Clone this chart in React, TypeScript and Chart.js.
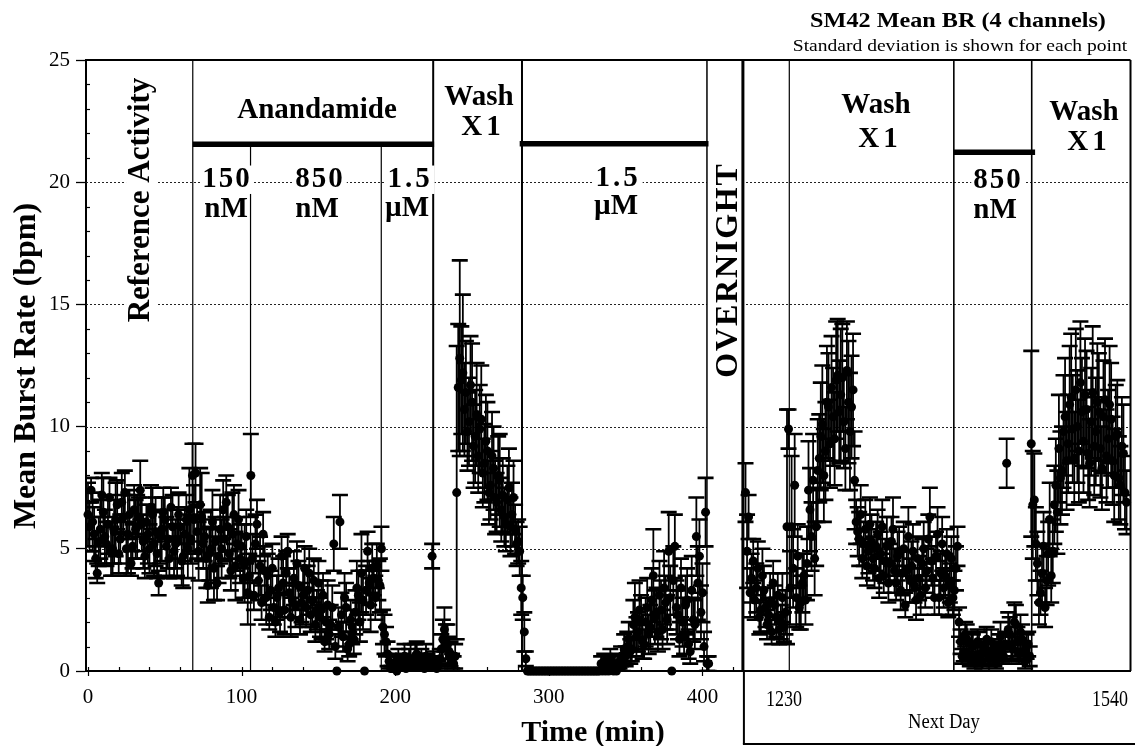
import React, { useEffect, useRef } from 'react';
import { Chart, registerables } from 'chart.js';

Chart.register(...registerables);

// ---------------- data ----------------
// sampling interval of the recording (minutes) and start of each recording day on the time axis
const STEP_MIN = 1;
const DAY1_START_MIN = 0;
const DAY2_START_MIN = 428;

// Day 1 mean burst rate (bpm), one value per minute from t = 0 (10 per row)
const day1Rate = [
  6.4, 5.9, 7.4, 6.1, 5.6, 4.6, 4.0, 5.3, 5.8, 7.2,
  6.5, 5.5, 5.2, 6.0, 7.1, 4.9, 5.0, 5.7, 6.2, 6.8,
  4.8, 5.4, 6.9, 6.3, 7.3, 5.0, 5.6, 6.4, 4.4, 5.1,
  6.6, 5.8, 5.9, 6.3, 7.4, 6.0, 5.3, 4.7, 6.1, 5.6,
  5.0, 6.7, 6.4, 5.2, 5.7, 4.8, 3.6, 5.5, 5.8, 6.5,
  6.2, 5.1, 5.4, 4.6, 6.7, 5.9, 4.9, 5.2, 5.3, 6.4,
  5.9, 4.5, 4.7, 5.6, 6.2, 5.0, 6.6, 5.4, 8.0, 6.2,
  8.1, 5.7, 4.9, 6.8, 6.3, 5.2, 5.5, 4.6, 3.5, 4.8,
  5.0, 6.1, 4.2, 5.3, 3.6, 4.7, 5.8, 5.0, 6.6, 5.4,
  6.9, 5.9, 4.8, 4.1, 5.6, 6.4, 4.3, 5.2, 6.2, 4.6,
  5.1, 3.8, 4.4, 5.5, 3.2, 3.9, 8.0, 4.6, 3.1, 5.2,
  6.0, 3.7, 4.3, 2.8, 5.6, 4.1, 3.0, 3.9, 2.2, 3.3,
  4.2, 2.6, 2.0, 3.0, 3.4, 2.4, 4.7, 3.6, 2.5, 4.0,
  4.9, 3.2, 2.2, 2.9, 3.8, 2.7, 4.4, 3.5, 2.1, 2.8,
  3.1, 4.2, 2.6, 3.3, 4.0, 2.3, 2.9, 3.7, 1.9, 2.5,
  3.6, 2.2, 2.5, 3.1, 1.2, 2.0, 2.7, 1.5, 1.9, 2.6,
  5.2, 1.0, 0.0, 1.8, 6.1, 2.3, 1.4, 3.0, 2.6, 0.9,
  1.1, 2.1, 1.8, 1.3, 2.4, 3.4, 3.1, 2.0, 4.0, 2.9,
  0.0, 3.3, 4.9, 3.6, 2.7, 4.2, 3.8, 3.0, 4.3, 3.7,
  3.5, 5.0, 1.8, 1.5, 1.2, 0.7, 0.4, 0.1, 0.1, 0.3,
  0.2, 0.0, 0.5, 0.3, 0.2, 0.4, 0.6, 0.1, 0.3, 0.5,
  0.5, 0.2, 0.2, 0.6, 0.7, 0.3, 0.4, 0.5, 0.3, 0.1,
  0.6, 0.4, 0.2, 0.3, 4.7, 0.4, 0.3, 0.1, 0.2, 0.5,
  0.9, 1.3, 1.7, 1.2, 1.1, 0.8, 0.7, 0.4, 0.3, 0.6,
  7.3, 11.6, 12.8, 11.9, 12.2, 10.7, 11.4, 9.8, 10.2, 11.7,
  11.0, 9.2, 9.6, 10.5, 8.8, 9.9, 10.3, 8.1, 8.5, 9.4,
  9.0, 7.3, 7.6, 8.8, 8.3, 7.1, 6.9, 8.0, 7.8, 6.6,
  7.2, 6.3, 6.0, 7.0, 7.5, 5.9, 6.4, 7.1, 5.8, 5.2,
  5.3, 4.9, 3.4, 3.0, 1.6, 0.5, 0, 0, 0, 0,
  0, 0, 0, 0, 0, 0, 0, 0, 0, 0,
  0, 0, 0, 0, 0, 0, 0, 0, 0, 0,
  0, 0, 0, 0, 0, 0, 0, 0, 0, 0,
  0, 0, 0, 0, 0, 0, 0, 0, 0, 0,
  0, 0, 0, 0, 0.3, 0, 0.4, 0, 0.2, 0,
  0.5, 0.1, 0, 0.3, 0, 0.2, 0.4, 0.6, 0.2, 0.9,
  0.6, 1.0, 1.3, 0.8, 0.9, 1.9, 2.2, 1.4, 1.6, 2.5,
  2.0, 1.2, 1.1, 2.0, 2.6, 1.5, 1.8, 2.9, 3.9, 2.2,
  2.4, 1.6, 3.1, 2.5, 1.7, 3.4, 2.8, 2.1, 4.9, 3.0,
  0.0, 3.7, 5.1, 2.6, 2.3, 1.3, 3.4, 2.0, 1.4, 2.7,
  2.9, 1.1, 0.8, 3.3, 2.1, 1.9, 5.5, 3.6, 4.7, 2.4,
  3.2, 1.0, 6.5, 0.3, 0.3,
];

// Day 1 standard deviation (bpm)
const day1Sd = [
  1.3, 1.0, 0.5, 1.2, 1.1, 0.8, 0.4, 1.0, 1.2, 0.9,
  1.4, 1.1, 0.9, 1.2, 0.8, 1.0, 1.1, 1.3, 1.5, 1.0,
  0.8, 1.0, 1.2, 0.9, 0.9, 1.1, 1.6, 1.0, 0.5, 0.9,
  1.0, 1.2, 1.3, 0.8, 1.2, 1.1, 1.1, 0.9, 0.7, 1.2,
  1.0, 0.9, 1.1, 1.3, 1.4, 1.0, 0.5, 1.1, 1.3, 1.0,
  0.9, 1.2, 1.2, 0.8, 0.8, 1.3, 1.1, 1.0, 1.4, 0.9,
  0.7, 1.0, 1.3, 1.1, 1.0, 1.2, 1.7, 1.0, 1.3, 1.4,
  1.2, 1.1, 1.2, 1.5, 1.8, 1.0, 1.0, 1.2, 0.7, 1.1,
  1.6, 1.3, 1.3, 1.0, 0.7, 1.1, 1.4, 1.2, 1.2, 0.9,
  1.1, 1.3, 1.0, 0.8, 1.7, 1.2, 1.4, 1.1, 1.2, 1.0,
  0.9, 0.8, 1.6, 1.1, 1.3, 0.9, 1.7, 1.0, 0.6, 1.2,
  1.0, 0.8, 1.2, 0.7, 0.9, 1.0, 1.1, 0.9, 0.5, 0.8,
  1.0, 0.7, 0.6, 0.9, 1.2, 0.8, 0.8, 1.1, 1.0, 0.9,
  0.7, 1.0, 0.8, 0.7, 1.1, 0.9, 0.9, 1.0, 0.6, 0.8,
  1.2, 0.9, 0.8, 1.0, 1.0, 0.7, 1.1, 0.9, 0.7, 0.8,
  0.9, 0.8, 1.2, 0.9, 0.4, 0.7, 1.0, 0.6, 0.8, 0.9,
  1.1, 0.5, 0.0, 0.8, 1.1, 0.9, 0.6, 1.0, 1.0, 0.5,
  0.5, 0.8, 0.7, 0.6, 0.9, 1.1, 1.0, 0.8, 1.6, 1.2,
  0.0, 1.0, 0.8, 0.9, 1.1, 1.0, 0.7, 0.9, 0.9, 0.8,
  1.1, 0.9, 0.7, 0.8, 0.6, 0.5, 0.3, 0.1, 0.1, 0.3,
  0.2, 0.0, 0.4, 0.3, 0.2, 0.3, 0.5, 0.1, 0.3, 0.4,
  0.6, 0.2, 0.2, 0.5, 0.5, 0.3, 0.3, 0.4, 0.3, 0.1,
  0.5, 0.3, 0.2, 0.3, 0.5, 0.4, 0.3, 0.1, 0.2, 0.4,
  0.6, 0.8, 0.9, 0.7, 0.8, 0.6, 0.5, 0.3, 0.3, 0.5,
  6.0, 2.6, 4.0, 2.2, 3.2, 1.9, 2.1, 1.6, 1.8, 2.0,
  2.4, 1.7, 1.9, 2.1, 1.5, 1.8, 2.2, 1.4, 1.6, 1.9,
  2.0, 1.3, 1.4, 1.8, 1.7, 1.5, 1.2, 1.6, 1.9, 1.3,
  1.5, 1.2, 1.1, 1.4, 1.6, 1.2, 1.3, 1.5, 1.0, 0.9,
  0.9, 1.0, 1.1, 0.9, 0.8, 0.3, 0, 0, 0, 0,
  0, 0, 0, 0, 0, 0, 0, 0, 0, 0,
  0, 0, 0, 0, 0, 0, 0, 0, 0, 0,
  0, 0, 0, 0, 0, 0, 0, 0, 0, 0,
  0, 0, 0, 0, 0, 0, 0, 0, 0, 0,
  0, 0, 0, 0, 0.3, 0, 0.3, 0, 0.2, 0,
  0.4, 0.1, 0, 0.3, 0, 0.2, 0.3, 0.4, 0.2, 0.6,
  0.4, 0.6, 0.7, 0.5, 0.5, 1.0, 1.4, 0.8, 0.8, 1.2,
  1.1, 0.7, 0.6, 1.0, 1.2, 0.8, 0.9, 1.3, 1.9, 1.1,
  1.0, 0.8, 1.4, 1.2, 0.8, 1.5, 1.1, 1.0, 1.6, 1.3,
  0.0, 1.4, 1.3, 1.1, 1.0, 0.7, 1.2, 1.0, 0.7, 1.2,
  1.3, 0.6, 0.5, 1.4, 0.9, 1.0, 1.6, 1.5, 1.5, 1.1,
  1.2, 0.6, 1.4, 0.3, 0.3,
];

// Next day mean burst rate (bpm), one value per minute (10 per row)
const day2Rate = [
  7.3, 4.9, 6.3, 3.2, 3.8, 4.5, 2.9, 3.4, 4.2, 2.2,
  2.5, 3.9, 3.3, 2.6, 1.9, 2.3, 2.8, 1.6, 3.6, 2.7,
  2.2, 3.1, 1.7, 2.0, 3.0, 1.8, 2.4, 5.9, 9.9, 3.4,
  5.9, 4.2, 7.6, 3.0, 4.7, 2.6, 2.8, 3.6, 3.9, 2.9,
  4.4, 7.4, 6.6, 5.5, 7.8, 4.6, 5.9, 8.2, 8.7, 9.6,
  10.1, 8.0, 9.0, 11.0, 10.8, 9.3, 11.6, 10.4, 9.5, 11.9,
  12.1, 10.6, 11.3, 12.0, 10.2, 9.1, 12.3, 11.0, 9.8, 10.8,
  11.5, 7.8, 6.1, 5.7, 5.4, 6.4, 4.6, 5.2, 5.8, 4.3,
  4.9, 6.0, 5.3, 4.6, 4.2, 5.1, 5.6, 3.8, 4.8, 5.9,
  3.9, 4.5, 5.1, 3.6, 4.4, 5.3, 5.8, 4.1, 3.6, 4.7,
  4.9, 3.3, 4.0, 5.0, 2.7, 4.1, 5.5, 3.7, 4.3, 4.9,
  3.5, 2.9, 4.6, 3.8, 3.1, 4.4, 5.0, 3.4, 4.1, 5.4,
  6.3, 4.5, 3.8, 3.0, 4.7, 5.6, 3.0, 4.0, 5.2, 3.4,
  3.9, 4.8, 2.8, 3.6, 4.6, 3.0, 3.3, 4.2, 5.1, 2.0,
  1.2, 0.6, 0.8, 1.5, 1.3, 0.7, 0.5, 1.1, 1.0, 0.4,
  0.6, 1.2, 1.1, 0.7, 0.4, 0.8, 0.9, 1.3, 0.7, 0.5,
  1.2, 0.9, 0.5, 0.3, 0.8, 1.0, 1.4, 0.7, 0.6, 1.1,
  8.5, 1.7, 1.5, 1.0, 0.9, 2.0, 1.9, 1.2, 0.7, 1.6,
  1.3, 0.8, 0.4, 1.0, 1.1, 0.6, 9.3, 6.8, 7.0, 5.2,
  4.4, 2.8, 3.2, 4.0, 5.1, 2.6, 3.7, 4.8, 6.2, 3.9,
  4.9, 6.8, 7.6, 6.5, 9.1, 7.9, 8.2, 9.8, 10.4, 8.6,
  9.3, 10.9, 11.2, 9.9, 8.7, 11.5, 10.0, 9.0, 11.8, 10.6,
  9.4, 11.3, 10.7, 8.9, 8.5, 10.2, 11.4, 9.2, 9.8, 11.0,
  10.6, 9.1, 8.3, 10.4, 11.1, 8.8, 9.5, 10.9, 10.3, 8.6,
  8.0, 9.6, 9.7, 7.9, 7.6, 9.2, 8.9, 7.3, 6.9,
];

// Next day standard deviation (bpm)
const day2Sd = [
  1.2, 1.5, 0.9, 1.0, 1.0, 0.9, 0.8, 1.0, 1.1, 0.7,
  0.9, 1.1, 1.0, 0.8, 0.6, 0.7, 1.2, 0.5, 0.9, 0.8,
  0.8, 0.9, 0.6, 0.7, 1.0, 0.6, 0.9, 4.8, 0.8, 1.5,
  2.9, 1.6, 2.1, 1.2, 1.3, 0.9, 1.1, 1.2, 0.9, 1.0,
  1.5, 2.0, 1.7, 1.4, 1.9, 1.5, 1.6, 2.1, 1.8, 2.2,
  2.4, 1.9, 2.0, 2.3, 2.2, 1.8, 2.1, 2.0, 1.9, 2.4,
  2.3, 2.1, 2.7, 2.2, 1.9, 1.7, 2.0, 2.5, 2.4, 2.1,
  2.3, 2.0, 0.9, 1.0, 1.1, 1.2, 0.8, 0.9, 1.2, 0.8,
  0.9, 1.1, 1.1, 0.9, 0.8, 1.0, 1.0, 0.8, 0.9, 1.1,
  0.7, 0.9, 1.2, 0.8, 0.8, 1.0, 1.3, 0.9, 0.7, 1.0,
  1.0, 0.8, 0.9, 1.1, 0.5, 0.8, 1.2, 0.9, 1.0, 1.1,
  0.7, 0.8, 0.9, 0.9, 0.8, 1.0, 1.1, 0.8, 0.9, 1.0,
  1.2, 1.0, 0.8, 0.7, 1.0, 1.1, 0.7, 0.9, 1.1, 0.8,
  0.9, 1.0, 0.6, 0.8, 0.9, 0.7, 0.8, 0.9, 0.8, 0.6,
  0.5, 0.3, 0.4, 0.5, 0.6, 0.4, 0.3, 0.5, 0.5, 0.3,
  0.4, 0.5, 0.5, 0.4, 0.3, 0.4, 0.4, 0.5, 0.4, 0.3,
  0.5, 0.4, 0.3, 0.2, 0.4, 0.5, 0.6, 0.4, 0.3, 0.5,
  1.0, 0.7, 0.7, 0.5, 0.5, 0.8, 0.8, 0.6, 0.4, 0.7,
  0.6, 0.4, 0.3, 0.5, 0.5, 0.4, 3.8, 2.2, 1.9, 1.5,
  1.3, 0.9, 0.9, 1.2, 1.4, 0.8, 1.0, 1.3, 1.5, 1.1,
  1.3, 1.6, 1.9, 1.7, 2.2, 1.9, 1.8, 2.3, 2.4, 2.0,
  2.0, 2.4, 2.6, 2.2, 1.9, 2.5, 2.3, 2.1, 2.5, 2.2,
  2.1, 2.3, 2.4, 1.9, 1.8, 2.2, 2.7, 2.0, 2.2, 2.4,
  2.4, 2.0, 1.7, 2.3, 2.5, 1.9, 2.0, 2.4, 2.3, 1.8,
  1.9, 2.1, 2.2, 1.7, 1.6, 2.0, 2.0, 1.5, 1.3,
];

// axis ticks
const X_TICKS = [0, 100, 200, 300, 400];
const X_MINOR_TICKS = [0, 20, 40, 60, 80, 100, 120, 140, 160, 180, 200, 220, 240, 260, 280, 300, 320, 340, 360, 380, 400, 420];
const Y_GRID = [5, 10, 15, 20];
const Y_MINOR_TICKS = [1, 2, 3, 4, 6, 7, 8, 9, 11, 12, 13, 14, 16, 17, 18, 19, 21, 22, 23, 24];

// protocol phases (minutes on the time axis)
const PHASE_LINES = [
  { t: 68.2, from: 25, w: 1.2 },
  { t: 105.8, from: 21.55, w: 1.2 },
  { t: 190.9, from: 21.55, w: 1.2 },
  { t: 224.7, from: 25, w: 2 },
  { t: 282.5, from: 25, w: 2 },
  { t: 402.9, from: 25, w: 1.5 },
  { t: 426.3, from: 25, w: 3 },
  { t: 456.5, from: 25, w: 1.2 },
  { t: 563.6, from: 25, w: 1.6 },
  { t: 614.3, from: 25, w: 1.6 },
];
const TREATMENT_BARS = [
  { from: 68.2, to: 225.3, level: 21.55 },
  { from: 281.0, to: 403.9, level: 21.57 },
  { from: 563.6, to: 616.5, level: 21.23 },
];
const OVERNIGHT = [402.9, 426.3];

const FONT = '"Liberation Serif", "Times New Roman", serif';

type Label = { text: string; x: number; y: number; size: number; bold?: boolean; rot?: boolean; ls?: number; sx?: number; bg?: boolean };

const PHASE_LABELS: Label[] = [
  { text: 'Reference Activity', x: 149, y: 200, size: 31, rot: true, bg: true },
  { text: 'Anandamide', x: 317, y: 118, size: 29 },
  { text: '150', x: 227, y: 187, size: 29, ls: 2, bg: true },
  { text: 'nM', x: 226, y: 217, size: 29 },
  { text: '850', x: 320, y: 187, size: 29, ls: 2, bg: true },
  { text: 'nM', x: 317, y: 217, size: 29 },
  { text: '1.5', x: 410, y: 187, size: 29, ls: 3, bg: true },
  { text: 'µM', x: 407, y: 216, size: 29 },
  { text: 'Wash', x: 479, y: 105, size: 29 },
  { text: 'X1', x: 483, y: 135, size: 29, ls: 4 },
  { text: '1.5', x: 618, y: 186, size: 29, ls: 3, bg: true },
  { text: 'µM', x: 616, y: 214, size: 29 },
  { text: 'OVERNIGHT', x: 737, y: 270, size: 32, rot: true, ls: 1.8 },
  { text: 'Wash', x: 876, y: 113, size: 29 },
  { text: 'X1', x: 880, y: 147, size: 29, ls: 4 },
  { text: '850', x: 998, y: 188, size: 29, ls: 2, bg: true },
  { text: 'nM', x: 995, y: 218, size: 29 },
  { text: 'Wash', x: 1084, y: 120, size: 29 },
  { text: 'X1', x: 1089, y: 150, size: 29, ls: 4 },
];

const FRAME_LABELS: Label[] = [
  { text: 'SM42 Mean BR (4 channels)', x: 958, y: 27, size: 22, sx: 1.1 },
  { text: 'Standard deviation is shown for each point', x: 960, y: 51, size: 17, bold: false, sx: 1.15 },
  { text: 'Mean Burst Rate (bpm)', x: 35, y: 366, size: 32, rot: true },
  { text: 'Time (min)', x: 593, y: 741, size: 30 },
  { text: '1230', x: 784, y: 706, size: 24, bold: false, sx: 0.75 },
  { text: '1540', x: 1110, y: 706, size: 24, bold: false, sx: 0.75 },
  { text: 'Next Day', x: 944, y: 728, size: 20, bold: false, sx: 0.93 },
];

function drawLabel(ctx: CanvasRenderingContext2D, L: Label) {
  ctx.save();
  ctx.translate(L.x, L.y);
  if (L.rot) ctx.rotate(-Math.PI / 2);
  if (L.sx) ctx.scale(L.sx, 1);
  ctx.font = `${L.bold === false ? '' : 'bold '}${L.size}px ${FONT}`;
  (ctx as any).letterSpacing = `${L.ls || 0}px`;
  ctx.textAlign = 'center';
  ctx.textBaseline = 'alphabetic';
  if (L.bg) {
    const w = ctx.measureText(L.text).width;
    ctx.fillStyle = '#fff';
    ctx.fillRect(-w / 2 - 2, -L.size * 0.74, w + 4, L.size * 0.98);
  }
  ctx.fillStyle = '#000';
  ctx.fillText(L.text, 0, 0);
  ctx.restore();
}

function seg(ctx: CanvasRenderingContext2D, x0: number, y0: number, x1: number, y1: number) {
  ctx.beginPath();
  ctx.moveTo(x0, y0);
  ctx.lineTo(x1, y1);
  ctx.stroke();
}

const figurePlugin = {
  id: 'figure',
  beforeDatasetsDraw(chart: any) {
    const { ctx, chartArea: a, scales } = chart;
    const x = scales.x, y = scales.y;
    ctx.save();
    // dotted horizontal grid
    ctx.strokeStyle = '#222';
    ctx.lineWidth = 1;
    ctx.setLineDash([2, 2]);
    Y_GRID.forEach((v) => {
      const py = Math.round(y.getPixelForValue(v)) + 0.5;
      seg(ctx, a.left, py, a.right, py);
    });
    ctx.setLineDash([]);
    // overnight gap
    const o0 = x.getPixelForValue(OVERNIGHT[0]);
    const o1 = x.getPixelForValue(OVERNIGHT[1]);
    ctx.fillStyle = '#fff';
    ctx.fillRect(o0, a.top + 1, o1 - o0, a.bottom - a.top - 2);
    // phase separators
    ctx.strokeStyle = '#000';
    PHASE_LINES.forEach((p) => {
      ctx.lineWidth = p.w;
      const px = x.getPixelForValue(p.t);
      seg(ctx, px, y.getPixelForValue(p.from), px, a.bottom);
    });
    // treatment bars
    ctx.lineWidth = 5.5;
    ctx.lineCap = 'butt';
    TREATMENT_BARS.forEach((b) => {
      const py = y.getPixelForValue(b.level);
      seg(ctx, x.getPixelForValue(b.from), py, x.getPixelForValue(b.to), py);
    });
    // labels
    PHASE_LABELS.forEach((L) => drawLabel(ctx, L));
    // error bars (mean ± sd)
    ctx.beginPath();
    ctx.rect(a.left, a.top, a.right - a.left, a.bottom - a.top + 1);
    ctx.clip();
    ctx.strokeStyle = '#000';
    chart.data.datasets.forEach((ds: any, i: number) => {
      const meta = chart.getDatasetMeta(i);
      meta.data.forEach((el: any, j: number) => {
        const d = ds.data[j];
        if (!d.sd) return;
        const px = el.x;
        const top = y.getPixelForValue(d.y + d.sd);
        const bot = y.getPixelForValue(d.y - d.sd);
        ctx.lineWidth = 1.8;
        seg(ctx, px, top, px, bot);
        ctx.lineWidth = 2.6;
        seg(ctx, px - 8, top, px + 8, top);
        seg(ctx, px - 8, bot, px + 8, bot);
      });
    });
    ctx.restore();
  },
  afterDatasetsDraw(chart: any) {
    const { ctx, chartArea: a, scales, width, height } = chart;
    const x = scales.x, y = scales.y;
    ctx.save();
    ctx.strokeStyle = '#000';
    // top and right frame
    ctx.lineWidth = 2;
    seg(ctx, a.left - 1, a.top, a.right, a.top);
    seg(ctx, a.right, a.top, a.right, a.bottom);
    // minor ticks
    ctx.lineWidth = 1.2;
    Y_MINOR_TICKS.forEach((v) => {
      const py = Math.round(y.getPixelForValue(v)) + 0.5;
      seg(ctx, a.left, py, a.left + 4, py);
    });
    X_MINOR_TICKS.forEach((v) => {
      const px = Math.round(x.getPixelForValue(v)) + 0.5;
      seg(ctx, px, a.bottom, px, a.bottom - 4);
    });
    X_TICKS.forEach((v) => {
      const px = Math.round(x.getPixelForValue(v)) + 0.5;
      seg(ctx, px, a.bottom, px, a.bottom + 5);
    });
    // next-day box under the right panel
    const bx = x.getPixelForValue(OVERNIGHT[1]);
    ctx.lineWidth = 2;
    seg(ctx, bx + 1, a.bottom, bx + 1, height - 2);
    seg(ctx, bx, height - 2, width, height - 2);
    FRAME_LABELS.forEach((L) => drawLabel(ctx, L));
    ctx.restore();
  },
};

export default function App() {
  const ref = useRef<HTMLCanvasElement | null>(null);

  useEffect(() => {
    if (!ref.current) return;
    const day1 = day1Rate.map((v, i) => ({ x: DAY1_START_MIN + i * STEP_MIN, y: v, sd: day1Sd[i] }));
    const day2 = day2Rate.map((v, i) => ({ x: DAY2_START_MIN + i * STEP_MIN, y: v, sd: day2Sd[i] }));
    const pointStyle = {
      pointRadius: 4.5,
      pointHoverRadius: 4.5,
      pointBackgroundColor: '#000',
      pointBorderColor: '#000',
      pointBorderWidth: 0,
      showLine: false,
      clip: false as any,
    };
    const chart = new Chart(ref.current, {
      type: 'scatter',
      data: {
        datasets: [
          { label: 'Day 1', data: day1 as any, ...pointStyle },
          { label: 'Next Day', data: day2 as any, ...pointStyle },
        ],
      },
      options: {
        animation: false,
        responsive: false,
        maintainAspectRatio: false,
        devicePixelRatio: 1,
        events: [],
        layout: { padding: { top: 60, right: 2, left: 0, bottom: 0 } },
        plugins: { legend: { display: false }, tooltip: { enabled: false }, title: { display: false } },
        scales: {
          x: {
            type: 'linear',
            min: -1.3,
            max: 678.6,
            afterBuildTicks: (s: any) => {
              s.ticks = X_TICKS.map((v) => ({ value: v }));
            },
            afterFit: (s: any) => {
              s.height = 75;
            },
            grid: { display: true, drawOnChartArea: false, drawTicks: false },
            border: { display: true, color: '#000', width: 2 },
            ticks: {
              autoSkip: false,
              maxRotation: 0,
              padding: 14,
              color: '#000',
              font: { family: FONT, size: 21 },
            },
          },
          y: {
            min: 0,
            max: 25,
            afterFit: (s: any) => {
              s.width = 86;
            },
            grid: { display: true, drawOnChartArea: false, drawTicks: true, tickLength: 10, tickColor: '#000', tickWidth: 1.3 },
            border: { display: true, color: '#000', width: 2 },
            ticks: {
              stepSize: 5,
              padding: 6,
              color: '#000',
              font: { family: FONT, size: 21 },
            },
          },
        },
      },
      plugins: [figurePlugin as any],
    });
    return () => chart.destroy();
  }, []);

  return (
    <div style={{ position: 'fixed', left: 0, top: 0, width: 1135, height: 746, background: '#fff' }}>
      <canvas ref={ref} width={1135} height={746} style={{ width: 1135, height: 746, display: 'block' }} />
    </div>
  );
}
